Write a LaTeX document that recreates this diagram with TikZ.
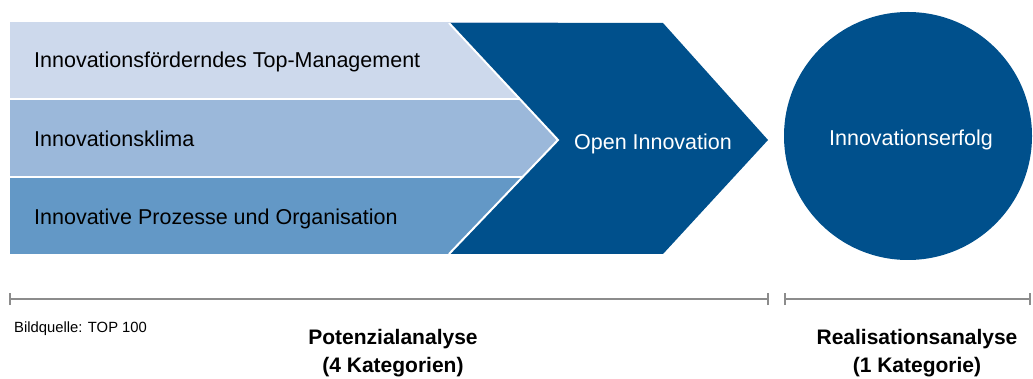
\documentclass[tikz,border=0pt]{standalone}
\usepackage{fontspec}
\setmainfont{Liberation Sans}
\definecolor{dblue}{HTML}{00508C}
\definecolor{lblueA}{HTML}{CDD9EC}
\definecolor{lblueB}{HTML}{9BB8DA}
\definecolor{lblueC}{HTML}{6398C6}
\definecolor{lgray}{HTML}{8C8C8C}
\tikzset{
  bartext/.style={anchor=base west, inner sep=0pt, font=\fontsize{21.5}{24}\selectfont, text=black},
  wtext/.style={anchor=base, inner sep=0pt, font=\fontsize{21.5}{24}\selectfont, text=white},
  btext/.style={anchor=base, inner sep=0pt, font=\bfseries\fontsize{21}{24}\selectfont, text=black},
  scale line/.style={draw=lgray, line width=2pt},
}
\begin{document}
\begin{tikzpicture}[x=1pt,y=-1pt]
\useasboundingbox (0,0) rectangle (1033,379);
% bars
\fill[lblueA] (10,22) rectangle (558,98);
\fill[lblueB] (10,100) rectangle (558,176);
\fill[lblueC] (10,178) rectangle (558,254);
% chevron
\fill[dblue] (449,23) -- (663,23) -- (768,140) -- (663,254) -- (449,254) -- (558,140) -- cycle;
\draw[white, line width=2pt] (449,23) -- (558,140) -- (449,254);
% circle
\fill[dblue] (908,136) circle (124);
% texts
\node[bartext] (t1) at (34,68) {Innovationsförderndes Top-Management};
\node[bartext] (t2) at (34,147) {Innovationsklima};
\node[bartext] (t3) at (34,225) {Innovative Prozesse und Organisation};
\node[wtext] (oi) at (653,150) {Open Innovation};
\node[wtext] (ie) at (911,146) {Innovationserfolg};
% scale lines
\coordinate (a1) at (10,299);
\coordinate (a2) at (768,299);
\coordinate (b1) at (785,299);
\coordinate (b2) at (1030,299);
\draw[scale line] (a1) -- (a2);
\draw[scale line] (b1) -- (b2);
\foreach \p in {a1,a2,b1,b2} \draw[scale line] ([yshift=-6pt]\p) -- ([yshift=6pt]\p);
\node[anchor=base west, inner sep=0pt, font=\fontsize{14.8}{16}\selectfont] (src) at (14,332) {Bildquelle: TOP 100};
\node[btext] (p1) at (393,344) {Potenzialanalyse};
\node[btext] (p2) at (393,372) {(4 Kategorien)};
\node[btext] (r1) at (917,344) {Realisationsanalyse};
\node[btext] (r2) at (917,372) {(1 Kategorie)};
\end{tikzpicture}
\end{document}
